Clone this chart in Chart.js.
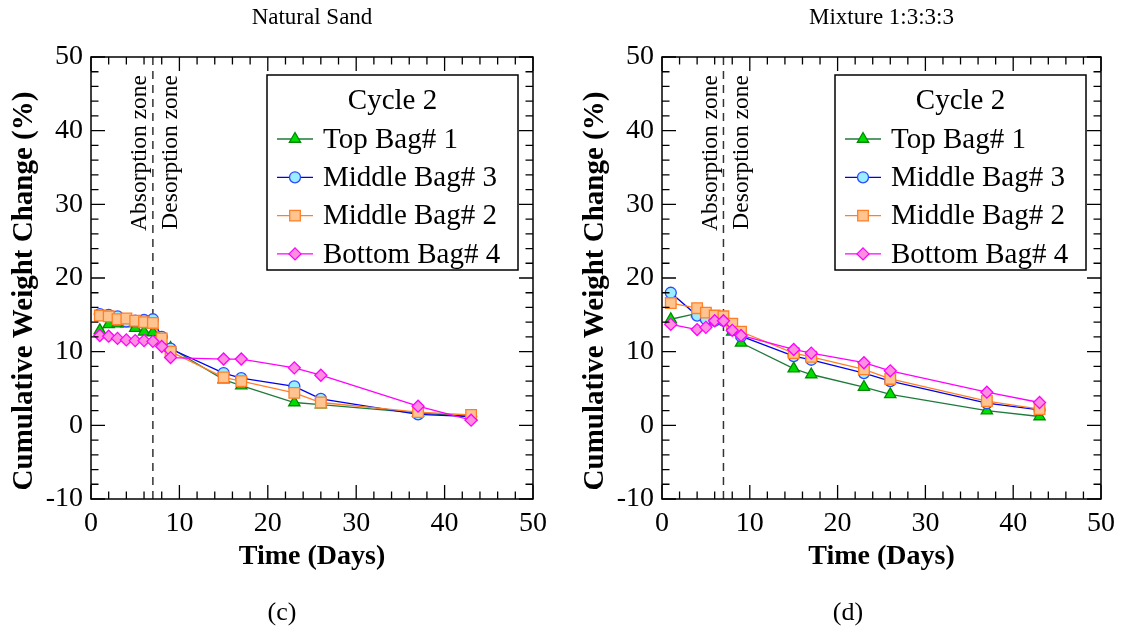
<!DOCTYPE html>
<html>
<head>
<meta charset="utf-8">
<script src="https://cdn.jsdelivr.net/npm/chart.js@4.4.1/dist/chart.umd.min.js"></script>
<style>
body{margin:0;background:#fff;width:1127px;height:632px;position:relative;overflow:hidden;font-family:'Liberation Serif',serif}
canvas{position:absolute;top:0}
.legenda{position:absolute;top:597px;font-size:26px;transform:translateX(-50%);color:#000}
</style>
</head>
<body>
<canvas id="graficoAreia" width="563" height="632" style="left:0"></canvas>
<canvas id="graficoMistura" width="556" height="632" style="left:571px"></canvas>
<div class="legenda" style="left:282px">(c)</div>
<div class="legenda" style="left:848px">(d)</div>
<script>
// dados (dias e variacao acumulada de peso, %)
const nomesSacos = ['Top Bag# 1', 'Middle Bag# 3', 'Middle Bag# 2', 'Bottom Bag# 4']

const diasAreia = [1, 2, 3, 4, 5, 6, 7, 8, 9, 15, 17, 23, 26, 37, 43]
const topoAreia = [12.9, 13.7, 13.8, 13.8, 13.2, 12.7, 12.6, 11.5, 10.5, 6.2, 5.4, 3.1, 2.8, 1.7, 1.2]
const meio3Areia = [15.1, 15.0, 14.8, 14.1, 14.2, 14.3, 14.4, 12.0, 10.4, 7.1, 6.4, 5.3, 3.6, 1.5, 1.2]
const meio2Areia = [14.9, 14.8, 14.4, 14.5, 14.2, 14.0, 13.9, 11.8, 10.0, 6.5, 6.0, 4.4, 3.1, 1.8, 1.4]
const fundoAreia = [12.2, 12.1, 11.8, 11.6, 11.5, 11.5, 11.4, 10.7, 9.2, 9.0, 9.0, 7.8, 6.8, 2.6, 0.7]

const diasMistura = [1, 4, 5, 6, 7, 8, 9, 15, 17, 23, 26, 37, 43]
const topoMistura = [14.4, 15.2, 14.7, 14.2, 14.2, 12.7, 11.2, 7.7, 6.9, 5.2, 4.2, 2.0, 1.2]
const meio3Mistura = [18.0, 14.9, 14.4, 14.2, 14.2, 13.0, 12.1, 9.4, 8.9, 7.1, 6.0, 3.0, 2.1]
const meio2Mistura = [16.6, 15.9, 15.3, 14.9, 14.8, 13.8, 12.7, 9.8, 9.3, 7.6, 6.3, 3.3, 2.2]
const fundoMistura = [13.7, 13.0, 13.3, 14.2, 14.2, 12.9, 12.2, 10.3, 9.8, 8.5, 7.4, 4.5, 3.1]

const limitesX = [0, 50]
const limitesY = [-10, 50]
const diaZona = 7

const fonte = "'Liberation Serif', 'Times New Roman', serif"
Chart.defaults.font.family = fonte
Chart.defaults.color = '#000'

const estilos = [
	{linha: '#1f7a3c', borda: '#008a00', fundo: '#00dd00', ponto: 'triangle', raio: 6.5},
	{linha: '#0000ee', borda: '#2a4cff', fundo: '#9beeff', ponto: 'circle', raio: 5.5},
	{linha: '#ff7f27', borda: '#ff7f27', fundo: '#ffc48f', ponto: 'rect', raio: 7.5},
	{linha: '#ff00ff', borda: '#ff00ff', fundo: '#ff8ee0', ponto: 'rectRot', raio: 6}
]

function montaSeries(dias, series){
	return series.map((serie, i) => ({
		label: nomesSacos[i],
		data: dias.map((d, k) => ({x: d, y: serie[k]})),
		borderColor: estilos[i].linha,
		borderWidth: 1.3,
		pointStyle: estilos[i].ponto,
		pointRadius: estilos[i].raio,
		pointBackgroundColor: estilos[i].fundo,
		pointBorderColor: estilos[i].borda,
		pointBorderWidth: 1.3,
		order: 4 - i
	}))
}

function textoVertical(ctx, texto, x, y, fonteCss, alinhamento){
	ctx.save()
	ctx.fillStyle = '#000'
	ctx.font = fonteCss
	ctx.textBaseline = 'middle'
	ctx.textAlign = alinhamento
	ctx.translate(x, y)
	ctx.rotate(-Math.PI / 2)
	ctx.fillText(texto, 0, 0)
	ctx.restore()
}

// moldura com marcas para dentro, linha tracejada da zona e a caixa de legenda
const molduraPlugin = {
	id: 'moldura',
	beforeDatasetsDraw(chart){
		const ctx = chart.ctx
		const a = chart.chartArea
		const px = chart.scales.x.getPixelForValue(diaZona)
		ctx.save()
		ctx.strokeStyle = '#333'
		ctx.lineWidth = 1.5
		ctx.setLineDash([8, 6])
		ctx.beginPath()
		ctx.moveTo(px, a.top)
		ctx.lineTo(px, a.bottom)
		ctx.stroke()
		ctx.restore()
		textoVertical(ctx, 'Absorption zone', px - 13, a.top + 18, '23.5px ' + fonte, 'right')
		textoVertical(ctx, 'Desorption zone', px + 18, a.top + 18, '23.5px ' + fonte, 'right')
	},
	afterDatasetsDraw(chart){
		const ctx = chart.ctx
		const a = chart.chartArea
		const sx = chart.scales.x, sy = chart.scales.y
		ctx.save()
		ctx.strokeStyle = '#000'
		ctx.lineWidth = 1.5
		ctx.strokeRect(a.left, a.top, a.right - a.left, a.bottom - a.top)
		ctx.lineWidth = 1.3
		ctx.beginPath()
		for (let v = limitesX[0]; v <= limitesX[1]; v += 2) {
			let p = sx.getPixelForValue(v)
			let t = v % 10 == 0 ? 14 : 7.5
			ctx.moveTo(p, a.bottom); ctx.lineTo(p, a.bottom - t)
			ctx.moveTo(p, a.top); ctx.lineTo(p, a.top + t)
		}
		for (let v = limitesY[0]; v <= limitesY[1]; v += 2) {
			let p = sy.getPixelForValue(v)
			let t = v % 10 == 0 ? 14 : 7.5
			ctx.moveTo(a.left, p); ctx.lineTo(a.left + t, p)
			ctx.moveTo(a.right, p); ctx.lineTo(a.right - t, p)
		}
		ctx.stroke()

		// caixa da legenda
		const bw = 251, bh = 195
		const bx = a.right - 15 - bw, by = a.top + 18
		ctx.fillStyle = '#fff'
		ctx.fillRect(bx, by, bw, bh)
		ctx.lineWidth = 1.5
		ctx.strokeRect(bx, by, bw, bh)
		ctx.fillStyle = '#000'
		ctx.font = '29px ' + fonte
		ctx.textBaseline = 'middle'
		ctx.textAlign = 'center'
		ctx.fillText('Cycle 2', bx + bw / 2, by + 26)
		ctx.textAlign = 'left'
		chart.data.datasets.forEach((ds, i) => {
			let y = by + 64 + i * 38.3
			ctx.strokeStyle = ds.borderColor
			ctx.lineWidth = 1.3
			ctx.beginPath()
			ctx.moveTo(bx + 10, y); ctx.lineTo(bx + 46, y)
			ctx.stroke()
			ctx.fillStyle = ds.pointBackgroundColor
			ctx.strokeStyle = ds.pointBorderColor
			Chart.helpers.drawPoint(ctx, {pointStyle: ds.pointStyle, radius: ds.pointRadius, borderWidth: 1.3, rotation: 0}, bx + 28, y)
			ctx.fillStyle = '#000'
			ctx.fillText(ds.label, bx + 56, y + 1)
		})
		ctx.restore()
	},
	afterDraw(chart){
		// titulo do eixo y desenhado a mao para acertar a posicao
		textoVertical(chart.ctx, 'Cumulative Weight Change (%)', 25, 291, 'bold 29px ' + fonte, 'center')
	}
}

function montaGrafico(idCanvas, titulo, dias, series, paddingDireita){
	const grafico = document.getElementById(idCanvas).getContext('2d')
	new Chart(grafico, {
		type: 'line',
		data: {datasets: montaSeries(dias, series)},
		options: {
			responsive: false,
			animation: false,
			layout: {padding: {top: 0, left: 0, right: paddingDireita, bottom: 53}},
			plugins: {
				legend: {display: false},
				tooltip: {enabled: false},
				title: {
					display: true,
					text: titulo,
					fullSize: false,
					font: {size: 23, weight: 'normal'},
					padding: {top: 4, bottom: 25.4},
					color: '#000'
				}
			},
			scales: {
				x: {
					type: 'linear',
					min: limitesX[0],
					max: limitesX[1],
					grid: {display: false, drawTicks: false},
					border: {display: false},
					ticks: {stepSize: 10, font: {size: 28}, padding: 8, color: '#000', maxRotation: 0},
					title: {display: true, text: 'Time (Days)', font: {size: 28, weight: 'bold'}, padding: {top: 0, bottom: 5}, color: '#000'},
					afterFit: (scale) => { scale.height = 80 }
				},
				y: {
					min: limitesY[0],
					max: limitesY[1],
					grid: {display: false, drawTicks: false},
					border: {display: false},
					ticks: {stepSize: 10, font: {size: 28}, padding: 8, color: '#000'},
					title: {display: false},
					afterFit: (scale) => { scale.width = 91 }
				}
			}
		},
		plugins: [molduraPlugin]
	})
}

montaGrafico('graficoAreia', 'Natural Sand', diasAreia, [topoAreia, meio3Areia, meio2Areia, fundoAreia], 30)
montaGrafico('graficoMistura', 'Mixture 1:3:3:3', diasMistura, [topoMistura, meio3Mistura, meio2Mistura, fundoMistura], 26)
</script>
</body>
</html>
